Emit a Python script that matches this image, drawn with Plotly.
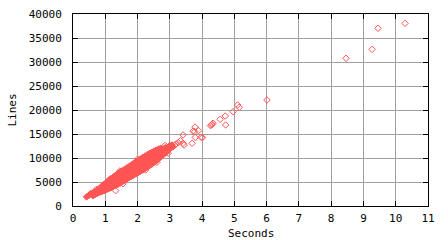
import plotly.graph_objects as go

# Main dense band (seconds, lines)
band_seconds = (
    [0.42] + [0.50] + [0.55]
    + [0.62] * 3 + [0.69] * 3 + [0.76] * 3 + [0.83] * 3
    + [0.90] * 5 + [0.97] * 5 + [1.04] * 5 + [1.11] * 5 + [1.18] * 5
    + [1.25] * 5 + [1.32] * 5 + [1.39] * 5 + [1.46] * 5 + [1.53] * 5
    + [1.60] * 5 + [1.67] * 5 + [1.74] * 5 + [1.81] * 5 + [1.88] * 5
    + [1.95] * 5 + [2.02] * 5 + [2.09] * 5 + [2.16] * 5 + [2.23] * 5
    + [2.30] * 5 + [2.37] * 5 + [2.44] * 5 + [2.51] * 5 + [2.58] * 5
    + [2.65] * 5 + [2.72] * 5
    + [2.79] * 4 + [2.86] * 4 + [2.93] * 3 + [3.00] * 3 + [3.07] * 2
)
band_lines = [
    1900, 2250, 2640,
    2150, 2450, 2700,
    2400, 2750, 3050,
    2650, 3000, 3400,
    2850, 3300, 3700,
    3000, 3350, 3600, 3850, 4200,
    3200, 3650, 3900, 4150, 4550,
    3400, 3850, 4150, 4500, 4950,
    3600, 4100, 4450, 4800, 5350,
    3800, 4300, 4750, 5150, 5750,
    4050, 4600, 5050, 5500, 6050,
    4300, 4850, 5300, 5800, 6400,
    4500, 5100, 5600, 6100, 6750,
    4800, 5400, 5900, 6400, 7050,
    5050, 5700, 6200, 6700, 7350,
    5300, 5950, 6500, 7000, 7650,
    5600, 6250, 6800, 7300, 7950,
    5900, 6550, 7050, 7600, 8250,
    6150, 6850, 7350, 7900, 8550,
    6400, 7100, 7650, 8200, 8900,
    6700, 7400, 7950, 8500, 9200,
    6950, 7650, 8250, 8800, 9500,
    7250, 7950, 8500, 9100, 9800,
    7500, 8250, 8800, 9400, 10100,
    7800, 8550, 9100, 9700, 10400,
    8100, 8800, 9400, 10000, 10700,
    8400, 9100, 9700, 10250, 10950,
    8700, 9400, 10000, 10550, 11200,
    9050, 9750, 10250, 10800, 11450,
    9400, 10050, 10550, 11050, 11650,
    9800, 10350, 10850, 11300, 11850,
    10200, 10700, 11150, 11600, 12050,
    10650, 11050, 11450, 11900,
    11000, 11400, 11750, 12150,
    11450, 11800, 12200,
    11900, 12250, 12600,
    12300, 12700,
]

# Scattered points around and beyond the band
sparse_seconds = [
    0.72, 1.13, 1.32, 1.45, 1.55, 2.00, 2.25, 2.60, 2.85, 2.95,
    3.10, 3.16, 3.19, 3.26, 3.33, 3.41, 3.44, 3.41, 3.69, 3.72,
    3.77, 3.78, 3.89, 3.79, 3.97, 4.01, 4.26, 4.29, 4.31, 4.34,
    4.56, 4.72, 4.73, 4.96, 5.10, 5.15, 6.01, 8.46, 9.27, 9.45, 10.29,
]
sparse_lines = [
    3450, 5550, 3200, 7300, 4650, 9750, 7500, 9100, 12600, 11000,
    12360, 12700, 12900, 13200, 13600, 13060, 12700, 14800, 13060, 15600,
    15480, 16450, 15700, 14300, 14300, 14250, 16750, 16900, 17050, 17250,
    18060, 18750, 16875, 19650, 21040, 20560, 22080, 30770, 32640, 37020, 38060,
]

x_ticks = list(range(0, 12))
y_ticks = [0, 5000, 10000, 15000, 20000, 25000, 30000, 35000, 40000]

MARK = "#ff5555"
FONT = dict(family="DejaVu Sans Mono", size=11, color="#000000")

fig = go.Figure()
fig.add_trace(go.Scatter(
    x=band_seconds, y=band_lines,
    mode="markers",
    marker=dict(symbol="diamond", size=5, color=MARK, line=dict(width=1, color=MARK)),
    showlegend=False, hoverinfo="skip",
))
fig.add_trace(go.Scatter(
    x=sparse_seconds, y=sparse_lines,
    mode="markers",
    marker=dict(symbol="diamond-open", size=5, color=MARK, line=dict(width=1, color=MARK)),
    showlegend=False, hoverinfo="skip",
))

axis_common = dict(
    showgrid=True, gridcolor="#a0a0a0", gridwidth=1,
    showline=True, linecolor="#000000", linewidth=1, mirror="ticks",
    ticks="inside", ticklen=5, tickcolor="#000000", tickwidth=1,
    zeroline=False, tickfont=FONT, automargin=False,
)

fig.update_layout(
    width=448, height=240,
    margin=dict(l=73, r=20, t=14, b=34),
    paper_bgcolor="#ffffff", plot_bgcolor="#ffffff",
    font=FONT,
    xaxis=dict(range=[0, 11], tickvals=x_ticks, ticktext=[str(v) for v in x_ticks],
               ticklabelstandoff=2, **axis_common),
    yaxis=dict(range=[0, 40000], tickvals=y_ticks, ticktext=[str(v) for v in y_ticks],
               ticklabelstandoff=8, **axis_common),
    annotations=[
        dict(text="Seconds", xref="paper", yref="paper", x=0.5, y=-0.145,
             xanchor="center", yanchor="middle", showarrow=False, font=FONT),
        dict(text="Lines", xref="paper", yref="paper", x=-0.173, y=0.5,
             xanchor="center", yanchor="middle", textangle=-90, showarrow=False, font=FONT),
    ],
)

fig.write_html("out.html")
